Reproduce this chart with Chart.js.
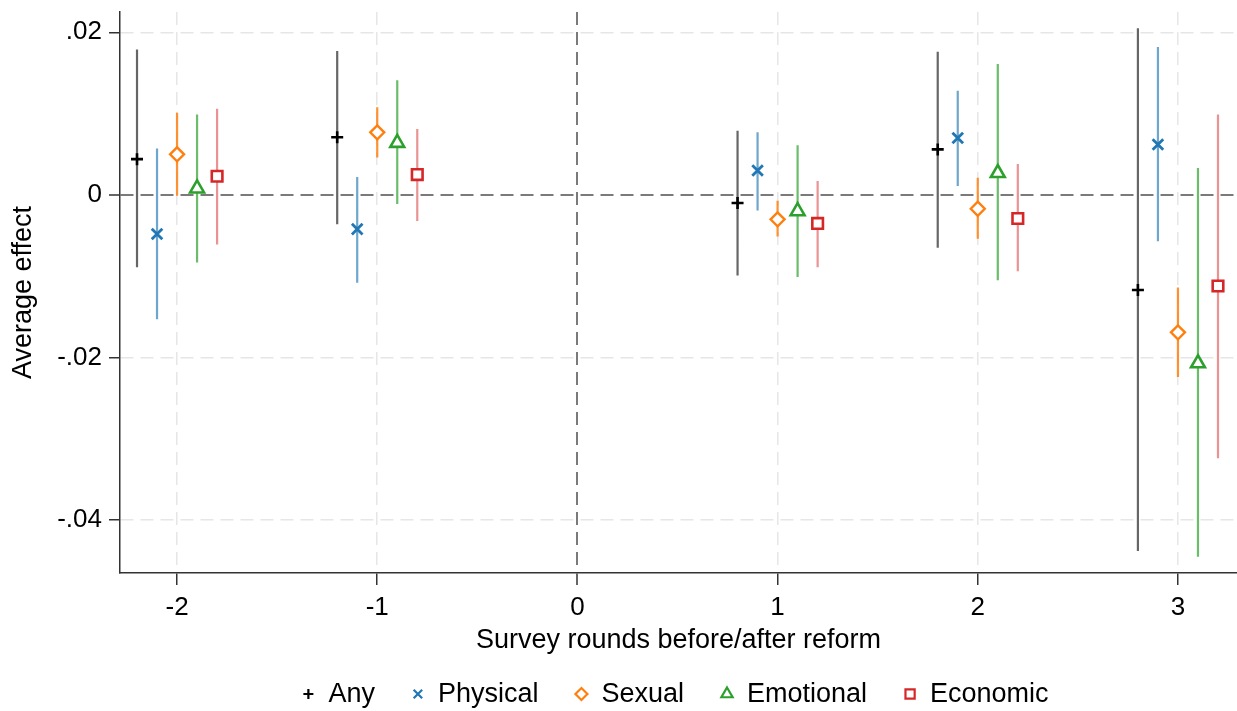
<!DOCTYPE html>
<html>
<head>
<meta charset="utf-8">
<title>Average effect by survey round</title>
<script src="https://cdn.jsdelivr.net/npm/chart.js@4.4.1/dist/chart.umd.min.js"></script>
<style>
    html, body { margin: 0; padding: 0; background: #fff; }
    .chart-wrap { position: relative; width: 1237px; height: 711px; }
</style>
</head>
<body>
<div class="chart-wrap"><canvas id="effectChart"></canvas></div>
<script>
// survey rounds relative to the reform, and the axis ticks
const rounds = [-2, -1, 1, 2, 3];
const xTicks = [-2, -1, 0, 1, 2, 3];
const yTicks = [-0.04, -0.02, 0, 0.02];
const yTickLabels = ['-.04', '-.02', '0', '.02'];

// point estimates and 95% CI bounds, one array per outcome
const anyEst = [0.0044, 0.0071, -0.0010, 0.0056, -0.0117];
const anyLo = [-0.0089, -0.0036, -0.0099, -0.0065, -0.0438];
const anyHi = [0.0179, 0.0177, 0.0079, 0.0176, 0.0205];

const physicalEst = [-0.0048, -0.0042, 0.0030, 0.0070, 0.0062];
const physicalLo = [-0.0153, -0.0108, -0.0019, 0.0011, -0.0057];
const physicalHi = [0.0057, 0.0022, 0.0077, 0.0128, 0.0182];

const sexualEst = [0.0050, 0.0077, -0.0030, -0.0017, -0.0169];
const sexualLo = [-0.0001, 0.0046, -0.0051, -0.0054, -0.0224];
const sexualHi = [0.0101, 0.0108, -0.0007, 0.0021, -0.0114];

const emotionalEst = [0.0008, 0.0064, -0.0020, 0.0027, -0.0207];
const emotionalLo = [-0.0083, -0.0011, -0.0101, -0.0105, -0.0445];
const emotionalHi = [0.0099, 0.0141, 0.0061, 0.0161, 0.0033];

const economicEst = [0.0023, 0.0025, -0.0035, -0.0029, -0.0112];
const economicLo = [-0.0061, -0.0032, -0.0089, -0.0094, -0.0324];
const economicHi = [0.0106, 0.0081, 0.0017, 0.0038, 0.0099];

(function () {
    'use strict';

    Chart.defaults.font.family = '"Liberation Sans", Arial, sans-serif';
    Chart.defaults.color = '#000';

    const series = [
        { label: 'Any', est: anyEst, lo: anyLo, hi: anyHi, shift: -0.2,
          color: '#000000', barColor: 'rgba(0, 0, 0, 0.6)', style: 'cross', radius: 6, width: 2.6, legendRadius: 5 },
        { label: 'Physical', est: physicalEst, lo: physicalLo, hi: physicalHi, shift: -0.1,
          color: '#2177b4', barColor: 'rgba(33, 119, 180, 0.65)', style: 'crossRot', radius: 7.5, width: 2.8, legendRadius: 6 },
        { label: 'Sexual', est: sexualEst, lo: sexualLo, hi: sexualHi, shift: 0,
          color: '#ff7f0e', barColor: 'rgba(255, 127, 14, 0.85)', style: 'rectRot', radius: 7, width: 2.4, legendRadius: 6 },
        { label: 'Emotional', est: emotionalEst, lo: emotionalLo, hi: emotionalHi, shift: 0.1,
          color: '#2ca02c', barColor: 'rgba(44, 160, 44, 0.7)', style: 'triangle', radius: 8, width: 2.6, legendRadius: 6.5 },
        { label: 'Economic', est: economicEst, lo: economicLo, hi: economicHi, shift: 0.2,
          color: '#d62728', barColor: 'rgba(214, 39, 40, 0.5)', style: 'rect', radius: 7.5, width: 2.6, legendRadius: 6.5 },
    ];

    function markerPoints(s) {
        return rounds.map((r, i) => ({ x: r + s.shift, y: s.est[i] }));
    }

    // each interval is a two-point segment, broken by a null
    function intervalPoints(s) {
        const pts = [];
        rounds.forEach((r, i) => {
            pts.push({ x: r + s.shift, y: s.lo[i] }, { x: r + s.shift, y: s.hi[i] }, { x: r + s.shift, y: null });
        });
        return pts;
    }

    const datasets = [];
    series.forEach(s => {
        datasets.push({
            label: s.label + ' CI',
            data: intervalPoints(s),
            showLine: true,
            spanGaps: false,
            borderColor: s.barColor,
            borderWidth: 2.2,
            pointRadius: 0,
            order: 2,
        });
        datasets.push({
            label: s.label,
            data: markerPoints(s),
            pointStyle: s.style,
            pointRadius: s.radius,
            pointBorderWidth: s.width,
            pointBorderColor: s.color,
            pointBackgroundColor: '#ffffff',
            order: 1,
            legendMarker: s,
        });
    });

    const isZero = c => c.tick && c.tick.value === 0;

    const markerLegend = {
        id: 'markerLegend',
        afterDraw(chart, args, opts) {
            const { ctx, chartArea } = chart;
            const items = chart.data.datasets.filter(d => d.legendMarker);
            ctx.save();
            ctx.font = opts.font;
            const widths = items.map(d => ctx.measureText(d.label).width);
            const total = widths.reduce((a, w) => a + w, 0) + items.length * opts.textGap + (items.length - 1) * opts.itemGap;
            let x = (chartArea.left + chartArea.right) / 2 - total / 2;
            const y = chart.height - opts.bottom;
            items.forEach((d, i) => {
                const m = d.legendMarker;
                ctx.strokeStyle = m.color;
                ctx.fillStyle = '#ffffff';
                ctx.lineWidth = 2.2;
                Chart.helpers.drawPoint(ctx, { pointStyle: m.style, radius: m.legendRadius, borderWidth: 2.2, rotation: 0 }, x, y);
                ctx.fillStyle = '#000';
                ctx.textAlign = 'left';
                ctx.textBaseline = 'middle';
                ctx.fillText(d.label, x + opts.textGap, y + 1);
                x += opts.textGap + widths[i] + opts.itemGap;
            });
            ctx.restore();
        },
    };

    new Chart(document.getElementById('effectChart'), {
        type: 'scatter',
        data: { datasets },
        plugins: [markerLegend],
        options: {
            responsive: true,
            maintainAspectRatio: false,
            animation: false,
            layout: { autoPadding: false, padding: { top: 12, right: 0, bottom: 50, left: 0 } },
            plugins: {
                legend: { display: false },
                tooltip: { enabled: false },
                markerLegend: { font: '27px "Liberation Sans", Arial, sans-serif', textGap: 20, itemGap: 43, bottom: 17 },
            },
            scales: {
                x: {
                    type: 'linear',
                    min: -2.285,
                    max: 3.295,
                    afterBuildTicks: scale => { scale.ticks = xTicks.map(v => ({ value: v })); },
                    afterFit: scale => {
                        scale.height = 88;
                        scale.paddingLeft = 0;
                        scale.paddingRight = 0;
                    },
                    ticks: {
                        autoSkip: false,
                        maxRotation: 0,
                        padding: 7,
                        color: '#000',
                        font: { size: 26 },
                        callback: v => String(v),
                    },
                    grid: {
                        color: c => isZero(c) ? '#7a7a7a' : '#e6e6e6',
                        lineWidth: c => isZero(c) ? 2 : 1.5,
                        tickColor: '#333',
                        tickLength: 12,
                        tickWidth: 1.5,
                    },
                    border: { color: '#333', width: 1.5, dash: [13, 7] },
                    title: {
                        display: true,
                        text: 'Survey rounds before/after reform',
                        color: '#000',
                        font: { size: 27 },
                        padding: { top: 0, bottom: 4 },
                    },
                },
                y: {
                    type: 'linear',
                    min: -0.0465,
                    max: 0.0225,
                    afterBuildTicks: scale => { scale.ticks = yTicks.map(v => ({ value: v })); },
                    afterFit: scale => {
                        scale.width = 120;
                        scale.paddingTop = 0;
                        scale.paddingBottom = 0;
                    },
                    ticks: {
                        padding: 7,
                        color: '#000',
                        font: { size: 26 },
                        callback: v => yTickLabels[yTicks.indexOf(v)],
                    },
                    grid: {
                        color: c => isZero(c) ? '#7a7a7a' : '#e6e6e6',
                        lineWidth: c => isZero(c) ? 2 : 1.5,
                        tickColor: '#333',
                        tickLength: 11,
                        tickWidth: 1.5,
                    },
                    border: { color: '#333', width: 1.5, dash: [13, 7] },
                    title: {
                        display: true,
                        text: 'Average effect',
                        color: '#000',
                        font: { size: 27 },
                        padding: { top: 7, bottom: 0 },
                    },
                },
            },
        },
    });
})();
</script>
</body>
</html>
